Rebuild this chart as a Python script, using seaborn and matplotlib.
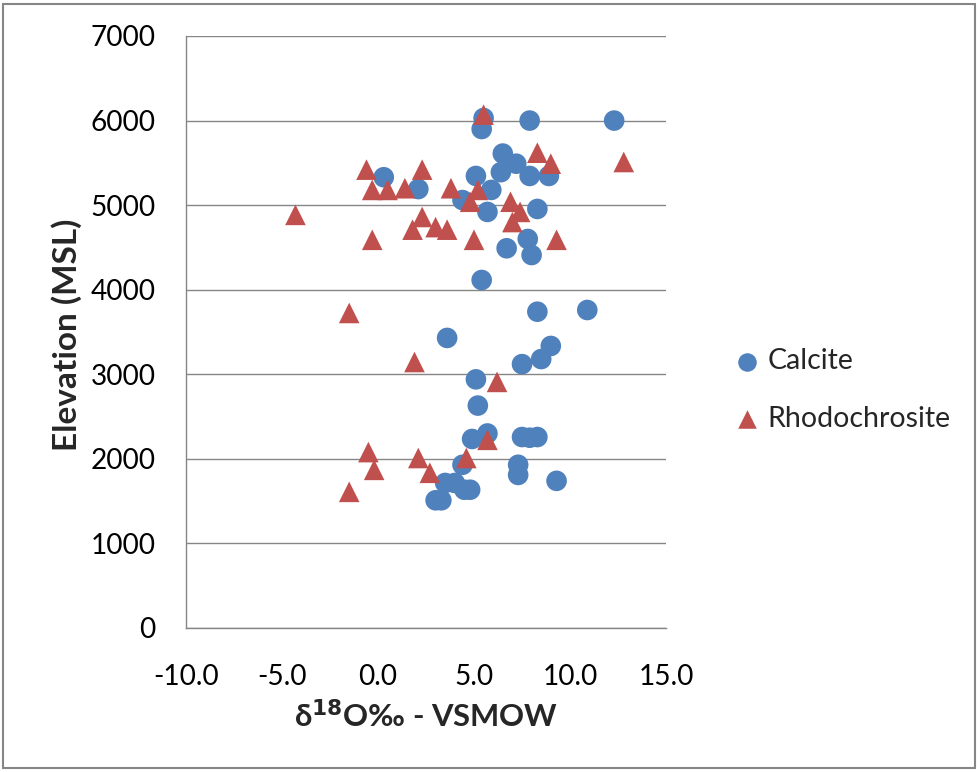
import matplotlib
matplotlib.use("Agg")
import matplotlib.pyplot as plt
import seaborn as sns
import pandas as pd
from matplotlib.patches import Rectangle

calcite_x = [5.5, 5.4, 7.9, 12.3, 6.5, 7.2, 6.4, 7.9, 8.9, 5.1, 5.9, 4.4, 5.7, 8.3,
             7.8, 6.7, 8.0, 5.4, 0.3, 2.1, 8.3, 10.9, 3.6, 9.0, 8.5, 7.5, 5.1, 5.2,
             5.7, 4.9, 7.5, 7.9, 8.3, 4.4, 7.3, 7.3, 9.3, 3.5, 4.0, 4.5, 4.8, 3.0, 3.3]
calcite_y = [6030, 5900, 6000, 6000, 5610, 5490, 5390, 5345, 5345, 5345, 5180, 5060, 4920, 4955,
             4600, 4490, 4410, 4115, 5330, 5190, 3740, 3760, 3430, 3335, 3180, 3120, 2940, 2630,
             2300, 2235, 2258, 2250, 2258, 1930, 1930, 1810, 1740, 1715, 1715, 1635, 1635, 1510, 1510]

rhodo_x = [5.5, 8.3, 9.0, 12.8, -0.6, 2.3, 3.8, -0.3, 0.5, 1.4, 5.2, 4.8, 6.9, 7.4,
           7.0, -4.3, 2.3, 1.8, 3.0, 3.6, -0.3, 5.0, 9.3, -1.5, 1.9, 6.2, 5.7, 4.6,
           -0.5, -0.2, 2.1, 2.7, -1.5]
rhodo_y = [6070, 5620, 5490, 5510, 5420, 5420, 5200, 5180, 5180, 5200, 5180, 5040, 5040, 4920,
           4800, 4885, 4860, 4710, 4740, 4710, 4590, 4590, 4590, 3725, 3145, 2910, 2225, 2010,
           2080, 1870, 2010, 1835, 1610]

series_names = ["Calcite", "Rhodochrosite"]
x_ticks = [-10, -5, 0, 5, 10, 15]
y_ticks = [0, 1000, 2000, 3000, 4000, 5000, 6000, 7000]

df = pd.DataFrame({
    "x": calcite_x + rhodo_x,
    "y": calcite_y + rhodo_y,
    "Mineral": [series_names[0]] * len(calcite_x) + [series_names[1]] * len(rhodo_x),
})

sns.set_style("white")
plt.rcParams["font.family"] = ["Lato", "DejaVu Sans"]

W, H = 980, 772
fig = plt.figure(figsize=(W / 100, H / 100), dpi=100)
ax = fig.add_axes([186 / W, 1 - 628 / H, 480 / W, 592 / H])
renderer = fig.canvas.get_renderer()


def size_for(text, target_w, base=20, weight="normal"):
    t = fig.text(0, 0, text, fontsize=base, fontweight=weight)
    w = t.get_window_extent(renderer).width
    t.remove()
    return base * target_w / w


sns.scatterplot(data=df, x="x", y="y", hue="Mineral", style="Mineral",
                palette={"Calcite": "#4F81BD", "Rhodochrosite": "#C0504D"},
                markers={"Calcite": "o", "Rhodochrosite": "^"},
                s=220, linewidth=0, ax=ax, zorder=3, legend=False)

ax.set_xlim(-10, 15)
ax.set_ylim(0, 7000)
ax.set_xticks(x_ticks)
ax.set_xticklabels([f"{v:.1f}" for v in x_ticks])
ax.set_yticks(y_ticks)
ax.set_yticklabels([str(v) for v in y_ticks])

tick_fs = size_for("7000", 65)
ax.tick_params(axis="x", direction="out", length=10, width=1, color="#868686",
               labelsize=tick_fs, pad=16, labelcolor="#000000")
ax.tick_params(axis="y", direction="out", length=9, width=1, color="#868686",
               labelsize=tick_fs, pad=13, labelcolor="#000000")
ax.grid(axis="y", color="#868686", linewidth=1)
ax.set_axisbelow(True)
for side in ["top", "right"]:
    ax.spines[side].set_visible(False)
for side in ["left", "bottom"]:
    ax.spines[side].set_color("#868686")
    ax.spines[side].set_linewidth(1)

xlab_text = r"δ$^{\mathbf{18}}$O‰ - VSMOW"
ylab_text = "Elevation (MSL)"
xl = ax.set_xlabel(xlab_text, fontsize=size_for(xlab_text, 264, weight="bold"),
                   fontweight="bold")
yl = ax.set_ylabel(ylab_text, fontsize=size_for(ylab_text, 232, weight="bold"),
                   fontweight="bold")
xl.set_verticalalignment("center")
yl.set_verticalalignment("center")
ax.xaxis.set_label_coords(0.5, (628 - 716) / 592)
ax.yaxis.set_label_coords((67 - 186) / 480, (628 - 335) / 592)

# legend
leg_fs = size_for("Rhodochrosite", 183)
ax.scatter([], [], s=220, c="#4F81BD", marker="o", linewidths=0, label=series_names[0])
ax.scatter([], [], s=220, c="#C0504D", marker="^", linewidths=0, label=series_names[1])
leg = fig.legend(loc="center left", bbox_to_anchor=(706 / W, 1 - 390 / H),
                 frameon=False, fontsize=leg_fs, handletextpad=0.15, labelspacing=1.1,
                 handlelength=1.1, markerscale=0.9)

fig.patches.append(Rectangle((3 / W, 4 / H), 972 / W, 764 / H,
                             transform=fig.transFigure, fill=False,
                             edgecolor="#868686", linewidth=1.5))

fig.savefig("out.png", dpi=100, facecolor="white")
